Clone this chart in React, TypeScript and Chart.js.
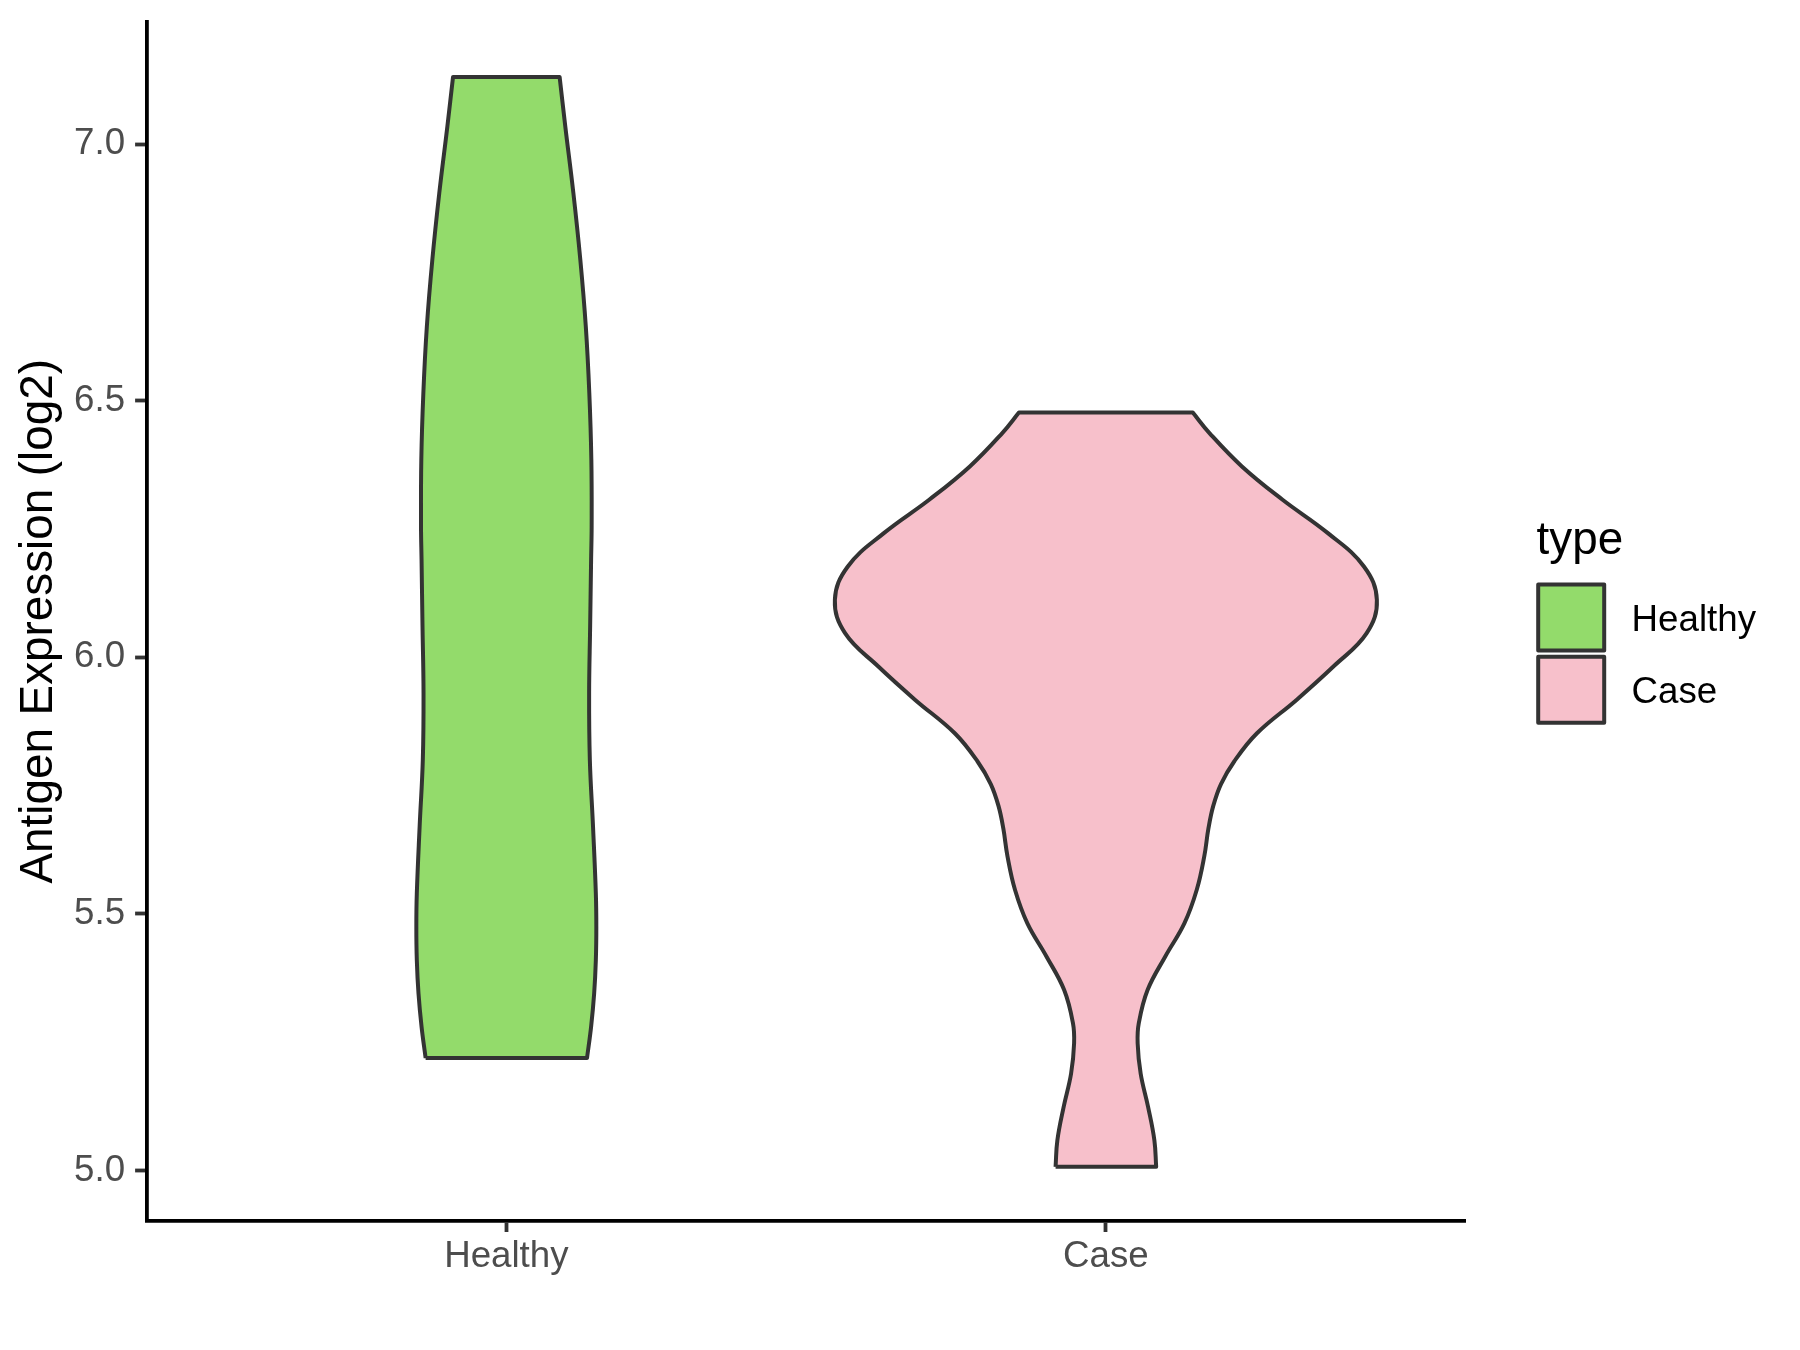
import React, { useEffect, useRef } from 'react';
import { Chart, registerables } from 'chart.js';

Chart.register(...registerables);

// ---- data ----
const categories = ['Healthy', 'Case'];
const categoryPositions = [1, 2];
const yTickValues = [5.0, 5.5, 6.0, 6.5, 7.0];
const yTitle = 'Antigen Expression (log2)';
const legendTitle = 'type';

// violin outlines: y values (bottom -> top) and half widths (x units)
const healthyY = [5.219, 5.28, 5.345, 5.41, 5.475, 5.54, 5.67, 5.8, 5.93, 6.06, 6.19, 6.255, 6.385, 6.515, 6.644, 6.775, 6.905, 7.034, 7.131];
const healthyHalfWidth = [0.1346, 0.1414, 0.1465, 0.1493, 0.1501, 0.1493, 0.1446, 0.1393, 0.1381, 0.1398, 0.1414, 0.1423, 0.1418, 0.1384, 0.1326, 0.1234, 0.1118, 0.0984, 0.0889];
const caseY = [5.007, 5.059, 5.124, 5.189, 5.248, 5.287, 5.352, 5.417, 5.482, 5.547, 5.612, 5.666, 5.71, 5.753, 5.797, 5.852, 5.917, 5.982, 6.047, 6.112, 6.177, 6.242, 6.307, 6.372, 6.437, 6.477];
const caseHalfWidth = [0.0839, 0.0809, 0.0704, 0.058, 0.053, 0.0549, 0.0697, 0.0991, 0.1311, 0.1516, 0.1641, 0.171, 0.179, 0.192, 0.214, 0.252, 0.318, 0.3795, 0.435, 0.452, 0.4304, 0.3703, 0.2947, 0.2269, 0.1728, 0.145];

const fillColors = ['#93DB6B', '#F7C0CB'];
const outlineColor = '#333333';
const FONT = '"Liberation Sans", Arial, Helvetica, sans-serif';

function violinOutline(center: number, ys: number[], ws: number[]) {
  const n = ys.length;
  const pts: { x: number; y: number }[] = [];
  for (let i = 0; i < n; i++) pts.push({ x: center - ws[i], y: ys[i] });
  pts.push({ x: center - ws[n - 1], y: ys[n - 1] });
  pts.push({ x: center + ws[n - 1], y: ys[n - 1] });
  for (let i = n - 1; i >= 0; i--) pts.push({ x: center + ws[i], y: ys[i] });
  pts.push({ x: center + ws[0], y: ys[0] });
  pts.push({ x: center - ws[0], y: ys[0] });
  return pts;
}

const legendPlugin = {
  id: 'ggLegend',
  afterDraw(chart: any) {
    const ctx = chart.ctx;
    const x0 = chart.chartArea.right + 71;
    ctx.save();
    ctx.fillStyle = '#000000';
    ctx.font = `45.8px ${FONT}`;
    ctx.textBaseline = 'alphabetic';
    ctx.textAlign = 'left';
    ctx.fillText(legendTitle, x0, 554);
    categories.forEach((c, i) => {
      const cy = 617.5 + i * 72.3;
      const cx = x0 + 34.6;
      ctx.fillStyle = fillColors[i];
      ctx.fillRect(cx - 33, cy - 33, 66, 66);
      ctx.lineWidth = 4;
      ctx.lineJoin = 'round';
      ctx.strokeStyle = outlineColor;
      ctx.strokeRect(cx - 33, cy - 33, 66, 66);
      ctx.fillStyle = '#000000';
      ctx.font = `36.7px ${FONT}`;
      ctx.textBaseline = 'middle';
      ctx.fillText(c, x0 + 95, cy + 3.5);
    });
    ctx.restore();
  },
};

export default function App() {
  const ref = useRef<HTMLCanvasElement>(null);
  useEffect(() => {
    const datasets = [
      { label: categories[0], data: violinOutline(categoryPositions[0], healthyY, healthyHalfWidth), fill: 'shape', backgroundColor: fillColors[0] },
      { label: categories[1], data: violinOutline(categoryPositions[1], caseY, caseHalfWidth), fill: 'shape', backgroundColor: fillColors[1] },
    ].map((d) => ({
      ...d,
      showLine: true,
      borderColor: outlineColor,
      borderWidth: 4,
      borderJoinStyle: 'round' as const,
      tension: 0.4,
      pointRadius: 0,
      pointHoverRadius: 0,
    }));

    const chart = new Chart(ref.current!, {
      type: 'scatter',
      data: { datasets: datasets as any },
      options: {
        responsive: false,
        animation: false,
        devicePixelRatio: 1,
        layout: { padding: { top: 22, right: 334.4, bottom: 0, left: 0 } },
        plugins: { legend: { display: false }, tooltip: { enabled: false } },
        events: [],
        scales: {
          x: {
            type: 'linear',
            min: 0.4,
            max: 2.6,
            afterBuildTicks: (scale: any) => {
              scale.ticks = categoryPositions.map((v) => ({ value: v }));
            },
            afterFit: (scale: any) => {
              scale.height = 129.5;
              scale.paddingLeft = 0;
              scale.paddingRight = 0;
            },
            ticks: {
              autoSkip: false,
              maxRotation: 0,
              padding: 3,
              color: '#4D4D4D',
              font: { family: FONT, size: 36.7 },
              callback: (v: any) => {
                const idx = categoryPositions.indexOf(Number(v));
                return idx >= 0 ? categories[idx] : '';
              },
            },
            grid: { display: true, drawOnChartArea: false, drawTicks: true, tickLength: 11.5, tickColor: '#333333', tickWidth: 3.8 },
            border: { display: true, color: '#000000', width: 3.8 },
          },
          y: {
            type: 'linear',
            min: 4.9025,
            max: 7.238,
            afterBuildTicks: (scale: any) => {
              scale.ticks = yTickValues.map((v) => ({ value: v }));
            },
            afterFit: (scale: any) => {
              scale.width = 146.6;
              scale.paddingTop = 0;
              scale.paddingBottom = 0;
            },
            ticks: {
              padding: 10,
              color: '#4D4D4D',
              font: { family: FONT, size: 36.7 },
              callback: (v: any) => Number(v).toFixed(1),
            },
            grid: { display: true, drawOnChartArea: false, drawTicks: true, tickLength: 11.5, tickColor: '#333333', tickWidth: 3.8 },
            border: { display: true, color: '#000000', width: 3.8 },
            title: {
              display: true,
              text: yTitle,
              color: '#000000',
              font: { family: FONT, size: 45.8 },
              padding: { top: 12, bottom: 0 },
            },
          },
        },
      },
      plugins: [legendPlugin],
    } as any);
    return () => chart.destroy();
  }, []);

  return (
    <div style={{ position: 'absolute', left: 0, top: 0, width: 1800, height: 1350, background: '#ffffff' }}>
      <canvas ref={ref} width={1800} height={1350} style={{ display: 'block', width: 1800, height: 1350 }} />
    </div>
  );
}
